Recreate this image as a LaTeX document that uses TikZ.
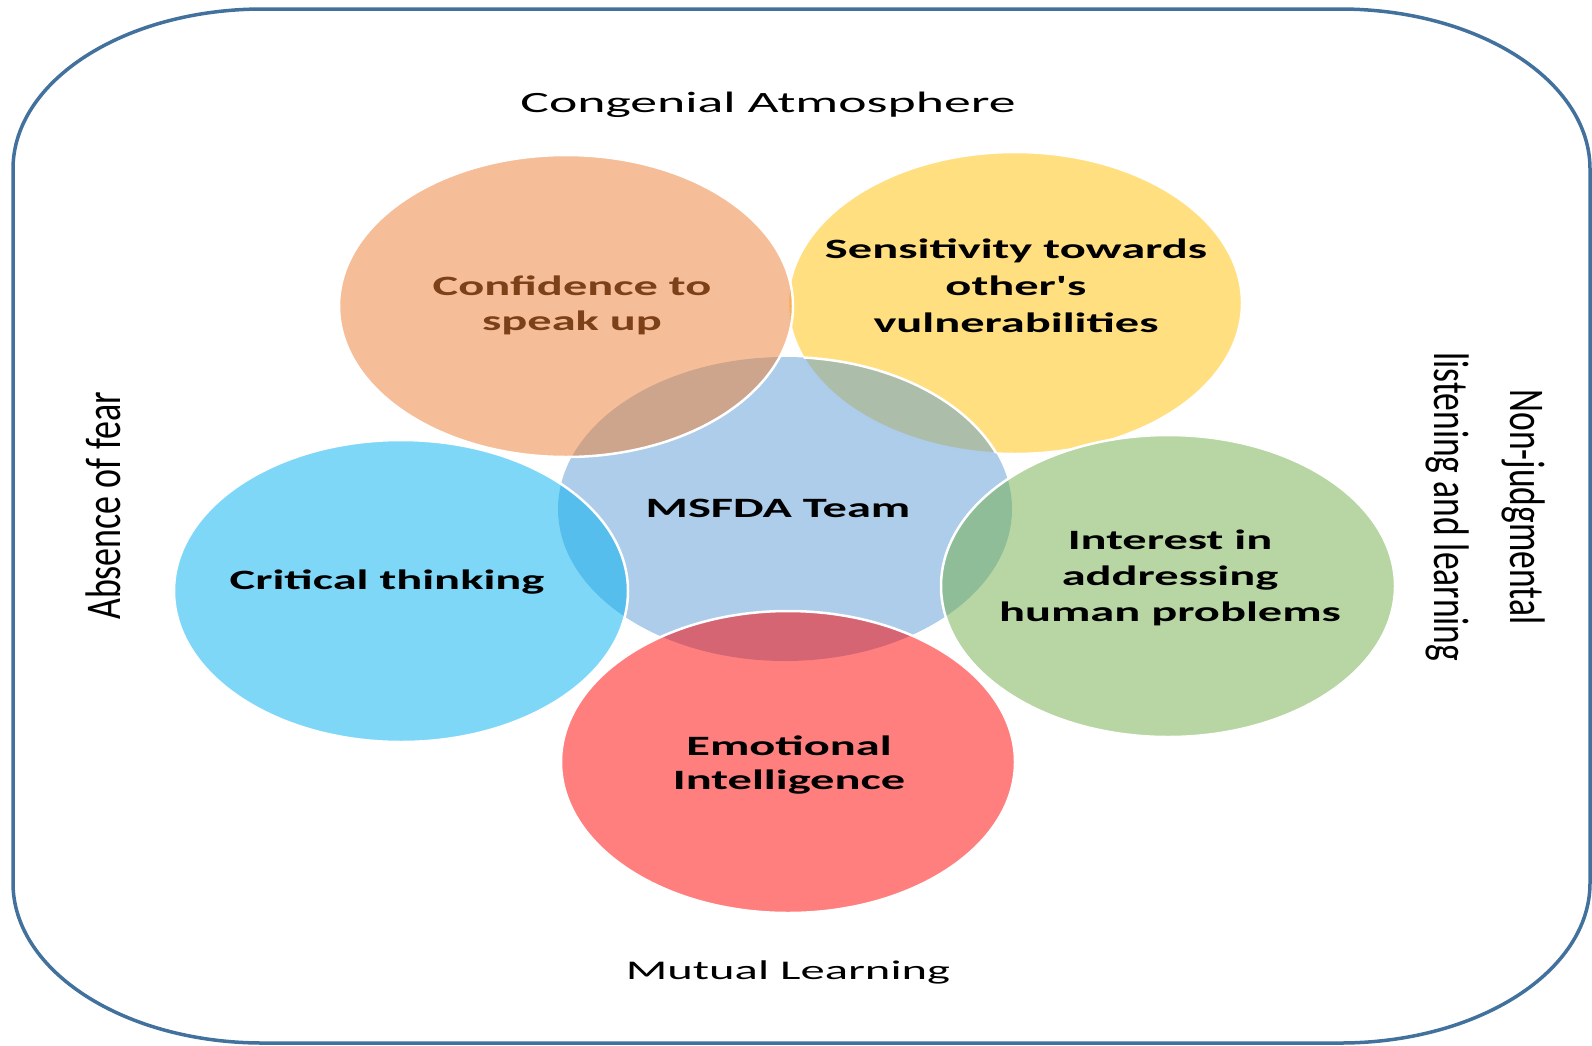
\documentclass[tikz,border=0pt]{standalone}
\usepackage{fontspec}
\setmainfont{Carlito}[Ligatures=TeXOff]
\usetikzlibrary{shapes.geometric}
\definecolor{cOrange}{HTML}{ED7D31}
\definecolor{cGold}{HTML}{FFC000}
\definecolor{cBlue}{HTML}{5B9BD5}
\definecolor{cCyan}{HTML}{00B0F0}
\definecolor{cGreen}{HTML}{70AD47}
\definecolor{cRed}{HTML}{FF0000}
\definecolor{cFrame}{HTML}{41719C}
\definecolor{cBrown}{RGB}{125,65,25}
\begin{document}
\begin{tikzpicture}[x=1pt,y=-1pt,
  bubble/.style={ellipse, inner sep=0pt, minimum width=454pt, minimum height=302pt,
    fill opacity=0.5, draw opacity=1, draw=white, line width=2.5pt},
  boldlab/.style={anchor=base, xscale=1.73, transform shape, inner sep=0pt,
    font=\fontsize{28}{36}\selectfont\bfseries},
  plainlab/.style={anchor=base, transform shape, inner sep=0pt},
  sidelab/.style={anchor=base, inner sep=0pt, font=\fontsize{50}{68}\selectfont}]
\useasboundingbox (0,0) rectangle (1592,1045);
% frame
\draw[cFrame, line width=3.5pt] (13,169) -- (13,883)
  arc[start angle=180,end angle=90,x radius=250,y radius=160] -- (1340,1043)
  arc[start angle=90,end angle=0,x radius=250,y radius=160] -- (1590,169)
  arc[start angle=0,end angle=-90,x radius=250,y radius=160] -- (263,9)
  arc[start angle=270,end angle=180,x radius=250,y radius=160] -- cycle;
% bubbles
\node[bubble, fill=cGold] (sensC) at (1015,303) {};
\node[ellipse, inner sep=0pt, minimum width=454pt, minimum height=304pt,
  fill=cBlue, fill opacity=0.5] (teamC) at (785,509) {};
\begin{scope}
  \clip (1015,303) ellipse [x radius=227, y radius=151];
  \draw[white, line width=2.5pt] (785,509) ellipse [x radius=227, y radius=152];
\end{scope}
\node[bubble, fill=cOrange] (confC) at (566,306) {};
\node[bubble, fill=cCyan] (critC) at (401,591) {};
\node[bubble, fill=cGreen] (interC) at (1168,586) {};
\node[bubble, fill=cRed] (emoC) at (788,762) {};
% labels
\node[plainlab, xscale=1.82, font=\fontsize{29.5}{36}\selectfont] (cong) at (768,112) {Congenial Atmosphere};
\node[plainlab, xscale=1.8, font=\fontsize{27}{36}\selectfont] (mutual) at (788,979) {Mutual Learning};
\node[boldlab, text=cBrown, font=\fontsize{28}{35}\selectfont\bfseries] (conf) at (572,295)
  {\begin{tabular}[t]{@{}c@{}}Confidence to\\speak up\end{tabular}};
\node[boldlab, font=\fontsize{28}{37}\selectfont\bfseries] (sens) at (1016,258)
  {\begin{tabular}[t]{@{}c@{}}Sensitivity towards\\other's\\vulnerabilities\end{tabular}};
\node[boldlab] (team) at (778,517) {MSFDA Team};
\node[boldlab] (crit) at (387,589) {Critical thinking};
\node[boldlab] (inter) at (1170,549)
  {\begin{tabular}[t]{@{}c@{}}Interest in\\addressing\\human problems\end{tabular}};
\node[boldlab, font=\fontsize{28}{34}\selectfont\bfseries] (emo) at (789,755)
  {\begin{tabular}[t]{@{}c@{}}Emotional\\Intelligence\end{tabular}};
\node[sidelab, rotate=90] (fear) at (120,506) {\scalebox{0.72}[1]{Absence of fear}};
\node[sidelab, rotate=-90, font=\fontsize{50}{76}\selectfont] (nonj) at (1510,507)
  {\scalebox{0.71}[1]{\begin{tabular}[t]{@{}c@{}}Non-judgmental\\listening and learning\end{tabular}}};
\end{tikzpicture}
\end{document}
